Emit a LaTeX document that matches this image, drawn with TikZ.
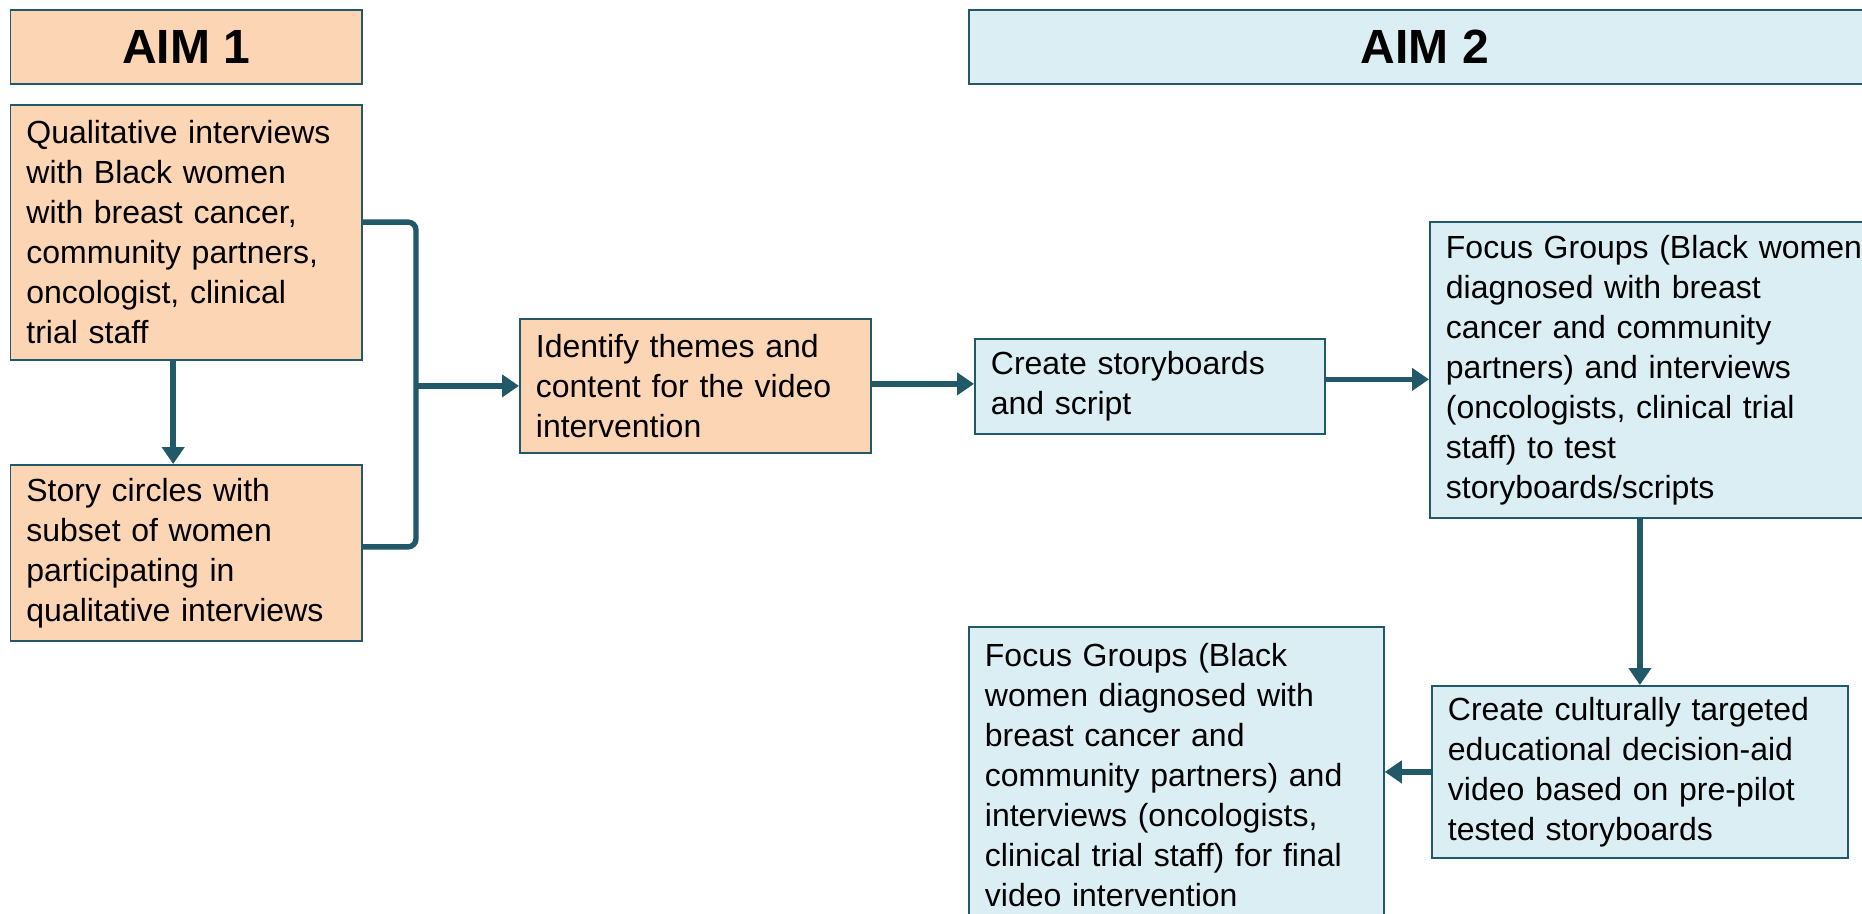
\documentclass[tikz,border=0pt]{standalone}
\usepackage{fontspec}
\setmainfont{Liberation Sans}
\usetikzlibrary{arrows.meta,calc}
\definecolor{orfill}{HTML}{FCD5B5}
\definecolor{blfill}{HTML}{DBEEF4}
\definecolor{edgec}{HTML}{215968}
\tikzset{
 box/.style={draw=edgec, line width=0.9pt, anchor=north west, inner xsep=8pt, inner ysep=0pt, align=left, font=\fontsize{16pt}{20pt}\selectfont},
 orbox/.style={box, fill=orfill},
 blbox/.style={box, fill=blfill},
 titlebox/.style={draw=edgec, line width=0.9pt, anchor=north west, inner sep=0pt, font=\fontsize{24pt}{28pt}\selectfont\bfseries},
 conn/.style={draw=edgec, line width=2.7pt},
 arr/.style={conn, -{Triangle[width=11pt,length=8.5pt]}},
}
\begin{document}
\begin{tikzpicture}[x=0.5pt,y=-0.5pt]
\clip (0,0) rectangle (1862,914);
\fill[white] (0,0) rectangle (1862,914);
\node[titlebox, fill=orfill, minimum width=175.75pt, minimum height=36.75pt] (aim1) at (9.5,9.5) {AIM 1};
\node[titlebox, fill=blfill, minimum width=456pt, minimum height=36.75pt] (aim2) at (968,9.5) {AIM 2};
\node[orbox, text width=159.75pt, minimum width=175.75pt, minimum height=127.5pt] (qual) at (9.5,104)
 {Qualitative interviews\\with Black women\\with breast cancer,\\community partners,\\oncologist, clinical\\trial staff};
\node[orbox, text width=159.75pt, minimum width=175.75pt, minimum height=88pt] (story) at (9.5,464)
 {Story circles with\\subset of women\\participating in\\qualitative interviews};
\node[orbox, text width=159.5pt, minimum width=175.5pt, minimum height=67pt] (ident) at (519,318)
 {Identify themes and\\content for the video\\intervention};
\node[blbox, text width=159pt, minimum width=175pt, minimum height=47.5pt] (create) at (974,338)
 {Create storyboards\\and script};
\node[blbox, text width=214pt, minimum width=230pt, minimum height=148pt] (focus1) at (1429,221)
 {Focus Groups (Black women\\diagnosed with breast\\cancer and community\\partners) and interviews\\(oncologists, clinical trial\\staff) to test\\storyboards/scripts};
\node[blbox, text width=192pt, minimum width=208pt, minimum height=86pt] (cult) at (1431,685)
 {Create culturally targeted\\educational decision-aid\\video based on pre-pilot\\tested storyboards};
\node[blbox, text width=191.5pt, minimum width=207.5pt, minimum height=148pt] (focus2) at (968,626)
 {Focus Groups (Black\\women diagnosed with\\breast cancer and\\community partners) and\\interviews (oncologists,\\clinical trial staff) for final\\video intervention};
% connectors
\coordinate (qa) at ($(qual.north east)!0.46!(qual.south east)$);
\coordinate (sa) at ($(story.north east)!0.466!(story.south east)$);
\coordinate (brk) at (416,0);
\draw[conn, rounded corners=4pt] (qa) -- (qa -| brk) -- (sa -| brk) -- (sa);
\draw[arr] (brk |- ident.west) -- (ident.west);
\draw[arr] ([xshift=-6.5pt]qual.south) -- ([xshift=-6.5pt]story.north);
\draw[arr] ([yshift=1pt]ident.east) -- ([yshift=1pt]ident.east -| create.west);
\draw[arr] ([yshift=3.5pt]create.east) -- ([yshift=3.5pt]create.east -| focus1.west);
\draw[arr] (cult.north |- focus1.south) -- (cult.north);
\draw[arr] (cult.west) -- (cult.west -| focus2.east);
\end{tikzpicture}
\end{document}
